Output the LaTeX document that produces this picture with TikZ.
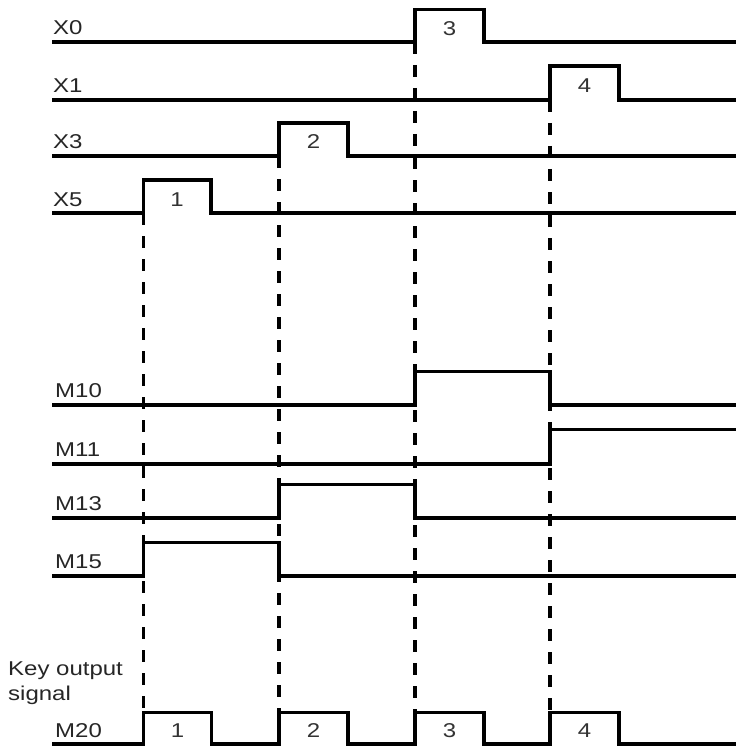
\documentclass[tikz,border=0pt]{standalone}
\usepackage{fontspec}
\setmainfont{Liberation Sans}[FakeStretch=1.2]
\usetikzlibrary{positioning}
\tikzset{
  wave/.style={line width=3.2pt, line join=miter},
  guide/.style={line width=3.4pt, dash pattern=on 12pt off 11pt},
  siglabel/.style={anchor=base west, inner sep=0pt, font=\fontsize{20}{24}\selectfont, black!85},
  pulselabel/.style={anchor=base, inner sep=0pt, font=\fontsize{20}{24}\selectfont, black!80}
}

\begin{document}
\begin{tikzpicture}[x=1pt, y=-1pt]
  \useasboundingbox (0,0) rectangle (736,746);
  % Dashed guides from the input edges down to M20
  \foreach \t/\y in {143.5/213, 279/156, 415/42, 550/100}
    \draw[guide] (\t,\y) -- (\t,712.5);
  % Input signals
  \draw[wave] (52,42) -- (415,42) -- (415,9.5) -- (484,9.5) -- (484,42) -- (736,42);
  \draw[wave] (52,100) -- (550,100) -- (550,66) -- (619,66) -- (619,100) -- (736,100);
  \draw[wave] (52,156) -- (279,156) -- (279,123) -- (348,123) -- (348,156) -- (736,156);
  \draw[wave] (52,213) -- (143.5,213) -- (143.5,180) -- (211,180) -- (211,213) -- (736,213);
  % Internal relays
  \draw[wave] (52,405) -- (415,405) -- (415,371.5) -- (550,371.5) -- (550,405) -- (736,405);
  \draw[wave] (52,464) -- (550,464) -- (550,429.5) -- (736,429.5);
  \draw[wave] (52,518) -- (279,518) -- (279,484.5) -- (415,484.5) -- (415,518) -- (736,518);
  \draw[wave] (52,576) -- (143.5,576) -- (143.5,542.5) -- (279,542.5) -- (279,576) -- (736,576);
  % Key output M20
  \draw[wave] (52,744) -- (143.5,744) -- (143.5,712.5) -- (211.5,712.5) -- (211.5,744)
    -- (279,744) -- (279,712.5) -- (348,712.5) -- (348,744)
    -- (415,744) -- (415,712.5) -- (484,712.5) -- (484,744)
    -- (550,744) -- (550,712.5) -- (619,712.5) -- (619,744) -- (736,744);
  % Signal names
  \foreach \name/\y in {X0/35, X1/93, X3/149, X5/206}
    \node[siglabel] (lbl\name) at (53,\y) {\name};
  \foreach \name/\y in {M10/397, M11/456, M13/510, M15/568, M20/737}
    \node[siglabel] (lbl\name) at (55,\y) {\name};
  \node[siglabel] (keytxt) at (8,675.5) {Key output};
  \node[siglabel] (signaltxt) at (8,700.5) {signal};
  % Pulse numbers
  \node[pulselabel] (nX5) at (177,206) {1};
  \node[pulselabel] (nX3) at (313.5,149) {2};
  \node[pulselabel] (nX0) at (449.5,35.5) {3};
  \node[pulselabel] (nX1) at (584.5,93) {4};
  \foreach \n/\t in {1/177.5, 2/313.5, 3/449.5, 4/584.5}
    \node[pulselabel] (nM\n) at (\t,737.5) {\n};
\end{tikzpicture}
\end{document}
